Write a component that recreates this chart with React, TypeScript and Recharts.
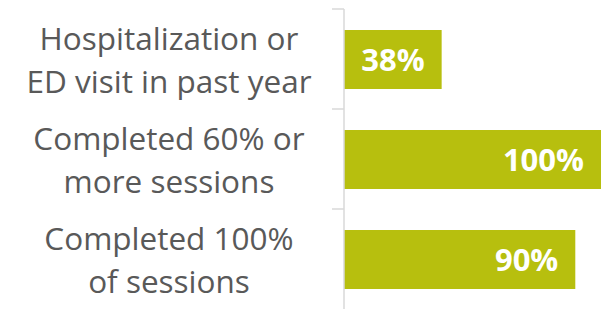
import { BarChart, Bar, XAxis, YAxis, LabelList } from 'recharts';

const categories = ['Hospitalization or|ED visit in past year', 'Completed 60% or|more sessions', 'Completed 100%|of sessions'];
const values = [38, 100, 90];

const data = categories.map((name, i) => ({ name, value: values[i] }));

const W = 606;
const H = 309;
const M = { top: 9, right: 5, bottom: 0, left: 0 };
const halfBand = (H - M.top - M.bottom) / categories.length / 2;

function CategoryTick(props: any) {
    const { x, y, payload } = props;
    const lines = String(payload.value).split('|');
    return (
        <g>
            <line x1={x - 12} x2={x} y1={y - halfBand} y2={y - halfBand} stroke="#d9d9d9" strokeWidth={1.5} />
            <text textAnchor="middle" fill="#595959" fontSize={31.5} fontFamily="Open Sans">
                <tspan x={x - 175} y={y - 9}>{lines[0]}</tspan>
                <tspan x={x - 175} y={y + 34}>{lines[1]}</tspan>
            </text>
        </g>
    );
}

export default function App() {
    return (
        <div style={{ position: 'absolute', left: 0, top: 0, background: '#fff' }}>
            <BarChart width={W} height={H} data={data} layout="vertical" margin={M}>
                <XAxis type="number" domain={[0, 100]} hide />
                <YAxis
                    dataKey="name"
                    type="category"
                    width={344}
                    axisLine={{ stroke: '#d9d9d9', strokeWidth: 1.5 }}
                    tickLine={false}
                    tickSize={0}
                    tickMargin={0}
                    tick={<CategoryTick />}
                    interval={0}
                />
                <Bar dataKey="value" fill="#b7bf0e" barSize={59} isAnimationActive={false}>
                    <LabelList
                        dataKey="value"
                        position="insideRight"
                        offset={17}
                        formatter={(v: any) => `${v}%`}
                        fill="#ffffff"
                        fontSize={31}
                        fontWeight="bold"
                        fontFamily="Open Sans"
                    />
                </Bar>
            </BarChart>
        </div>
    );
}
